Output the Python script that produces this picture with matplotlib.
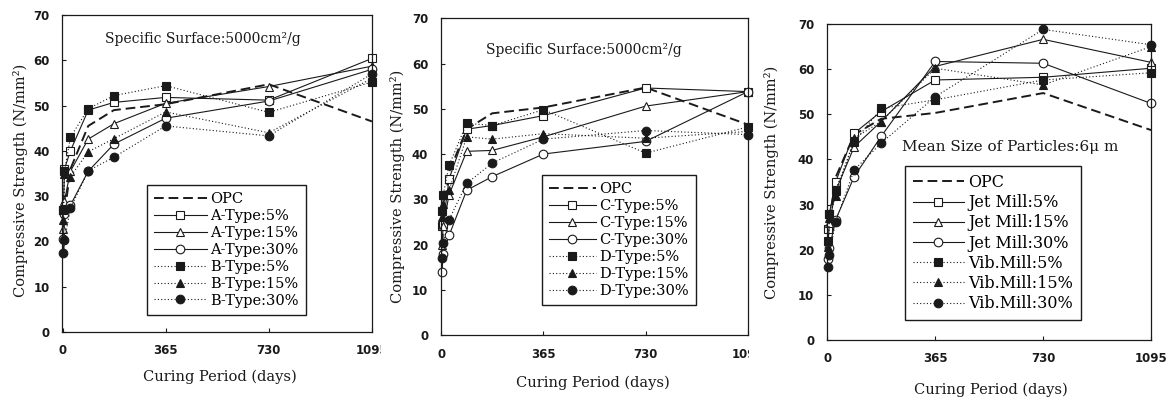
import matplotlib
matplotlib.use('Agg')
import matplotlib.pyplot as plt
from matplotlib.transforms import Bbox, TransformedBbox

# Style constants
SERIF = ['DejaVu Serif']
TICK_FONT = ['Liberation Sans Narrow', 'DejaVu Sans']
INK = '#1a1a1a'

# Curing ages (days)
DAYS = [3, 7, 28, 91, 182, 365, 730, 1095]
XTICKS = [0, 365, 730, 1095]
YTICKS = list(range(0, 71, 10))

# Reference cement, same in all panels
OPC = [17, 26, 36, 45.5, 49, 50.3, 54.7, 46.5]

# Panel 1
A5 = [27, 36, 40, 49, 50.7, 51.8, 51.2, 60.4]
A15 = [22.8, 29, 35.5, 42.6, 46, 50.5, 54.2, 58.7]
A30 = [20.5, 26, 28, 35.5, 41.5, 47.2, 51, 58]
B5 = [27, 35.5, 43, 49.3, 52.2, 54.4, 48.5, 55.2]
B15 = [24.8, 34.8, 34.3, 39.8, 42.7, 48.6, 44, 56]
B30 = [17.5, 20.3, 27.3, 35.6, 38.6, 45.5, 43.3, 57]

# Panel 2
C5 = [24, 24.5, 34.5, 45.5, 46.3, 48.5, 54.6, 53.8]
C15 = [20, 24, 31, 40.6, 40.8, 43.8, 50.6, 53.8]
C30 = [14, 18, 22, 32, 35, 40, 42.8, 53.8]
D5 = [27.5, 31, 37.5, 46.8, 46.3, 49.8, 40.2, 46]
D15 = [26, 29, 32, 43.8, 43.3, 44.5, 43.5, 45]
D30 = [17, 20.3, 25.5, 33.5, 38, 43.3, 45.2, 44.3]

# Panel 3
J5 = [24.5, 28, 35, 45.8, 50.6, 57.6, 58.2, 60.2]
J15 = [22, 26, 33, 42.8, 48.4, 60.6, 66.6, 61.5]
J30 = [18, 20.3, 26.6, 36.2, 45.1, 61.7, 61.3, 52.4]
V5 = [22, 28, 33.2, 43.9, 51.3, 53.2, 57.6, 59.2]
V15 = [20.5, 27, 31.8, 44.7, 48.4, 60.2, 56.5, 65]
V30 = [16.2, 18.8, 26.2, 37.7, 43.6, 53.9, 68.8, 65.4]

LABELS_1 = ['A-Type:5%', 'A-Type:15%', 'A-Type:30%', 'B-Type:5%', 'B-Type:15%', 'B-Type:30%']
LABELS_2 = ['C-Type:5%', 'C-Type:15%', 'C-Type:30%', 'D-Type:5%', 'D-Type:15%', 'D-Type:30%']
LABELS_3 = ['Jet Mill:5%', 'Jet Mill:15%', 'Jet Mill:30%', 'Vib.Mill:5%', 'Vib.Mill:15%', 'Vib.Mill:30%']

# marker / fill / line style per series slot
STYLES = [('s', 'white', '-'), ('^', 'white', '-'), ('o', 'white', '-'),
          ('s', INK, ':'), ('^', INK, ':'), ('o', INK, ':')]

PANELS = [
    dict(rect=[0.0529, 0.170, 0.2647, 0.7925], series=[A5, A15, A30, B5, B15, B30],
         labels=LABELS_1, note='Specific Surface:5000cm²/g', note_xy=(0.456, 0.925), note_fs=10,
         leg=(0.274, 0.054), leg_fs=10.5, hlen=3.6, ylab=(-0.135, 0.478), xlab=(0.51, -0.142),
         clip_x=381),
    dict(rect=[0.3763, 0.1625, 0.2624, 0.7917], series=[C5, C15, C30, D5, D15, D30],
         labels=LABELS_2, note='Specific Surface:5000cm²/g', note_xy=(0.466, 0.90), note_fs=10,
         leg=(0.329, 0.095), leg_fs=10.5, hlen=3.2, ylab=(-0.139, 0.47), xlab=(0.496, -0.152),
         clip_x=749),
    dict(rect=[0.7060, 0.150, 0.2770, 0.790], series=[J5, J15, J30, V5, V15, V30],
         labels=LABELS_3, note='Mean Size of Particles:6μ m', note_xy=(0.567, 0.612), note_fs=11,
         leg=(0.241, 0.063), leg_fs=11.5, hlen=3.2, ylab=(-0.169, 0.5), xlab=(0.506, -0.158),
         clip_x=None),
]

fig = plt.figure(figsize=(11.71, 4.0), dpi=100)
fig.patch.set_facecolor('white')

for p in PANELS:
    ax = fig.add_axes(p['rect'])
    ax.plot(DAYS, OPC, color=INK, lw=1.4, dashes=(5, 2.5), label='OPC', clip_on=False)
    for vals, lab, (mk, fc, ls) in zip(p['series'], p['labels'], STYLES):
        ax.plot(DAYS, vals, color=INK, lw=0.8, linestyle=(0, (1, 2)) if ls == ':' else '-',
                marker=mk, markersize=6.2, markerfacecolor=fc, markeredgecolor=INK,
                markeredgewidth=0.8, label=lab, clip_on=False)

    ax.set_xlim(-2, 1095)
    ax.set_ylim(0, 70)
    ax.set_xticks(XTICKS)
    ax.set_yticks(YTICKS)
    ax.tick_params(direction='in', length=3, width=0.8, colors=INK, labelsize=8.5, pad=9)
    for lbl in ax.get_xticklabels() + ax.get_yticklabels():
        lbl.set_family(TICK_FONT)
        lbl.set_fontweight('bold')
    for s in ax.spines.values():
        s.set_color(INK)
        s.set_linewidth(0.9)

    ax.set_ylabel('Compressive Strength (N/mm²)', family=SERIF, fontsize=10.5, color=INK, va='center')
    ax.yaxis.set_label_coords(*p['ylab'])
    ax.set_xlabel('Curing Period (days)', family=SERIF, fontsize=10.5, color=INK, va='center')
    ax.xaxis.set_label_coords(*p['xlab'])

    ax.text(*p['note_xy'], p['note'], transform=ax.transAxes, ha='center', va='center',
            family=SERIF, fontsize=p['note_fs'], color=INK)

    leg = ax.legend(loc='lower left', bbox_to_anchor=p['leg'],
                    prop={'family': SERIF, 'size': p['leg_fs']},
                    frameon=True, fancybox=False, edgecolor=INK, framealpha=1,
                    handlelength=p['hlen'], handletextpad=0.25, labelspacing=0.2,
                    borderpad=0.5, borderaxespad=0)
    leg.get_frame().set_linewidth(1.0)

    # the source figure was cut at the panel border, trimming the last x label
    if p['clip_x'] is not None:
        box = TransformedBbox(Bbox([[0, 0], [p['clip_x'] / 1171, 1]]), fig.transFigure)
        last = ax.xaxis.get_major_ticks()[-1].label1
        last.set_clip_box(box)
        last.set_clip_on(True)

fig.savefig('out.png', dpi=100, facecolor='white')
